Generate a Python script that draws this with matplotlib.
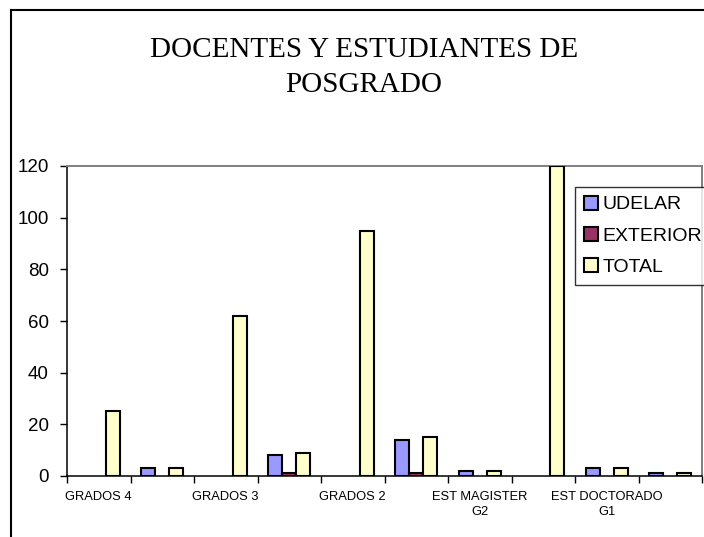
import numpy as np
import matplotlib
matplotlib.use("Agg")
import matplotlib.pyplot as plt
from matplotlib.patches import Patch
from matplotlib.lines import Line2D

plt.rcParams['font.family'] = ['Liberation Sans', 'DejaVu Sans']

# categories (Excel only shows every second label)
CATEGORIES = ["GRADOS 4", "", "GRADOS 3", "", "GRADOS 2", "",
              "EST MAGISTER\nG2", "", "EST DOCTORADO\nG1", ""]
SERIES = ["UDELAR", "EXTERIOR", "TOTAL"]
UDELAR = [0, 3, 0, 8, 0, 14, 2, 0, 3, 1]
EXTERIOR = [0, 0, 0, 1, 0, 1, 0, 0, 0, 0]
TOTAL = [25, 3, 62, 9, 95, 15, 2, 120, 3, 1]
COLORS = ["#9999FF", "#993366", "#FFFFCC"]
Y_TICKS = [0, 20, 40, 60, 80, 100, 120]

W, H = 704, 537
fig = plt.figure(figsize=(W / 100, H / 100), dpi=100)
ax = fig.add_axes([67 / W, 1 - 476 / H, 635 / W, 310 / H])

n = len(CATEGORIES)
x = np.arange(n)
bw = 1 / 4.5  # gap width 150%
for k, (vals, col) in enumerate(zip([UDELAR, EXTERIOR, TOTAL], COLORS)):
    vals = np.array(vals, dtype=float)
    keep = vals > 0
    pos = x + 0.75 * bw + bw * (k + 0.5)
    ax.bar(pos[keep], vals[keep], width=bw, color=col,
           edgecolor="black", linewidth=1.5, zorder=3)

ax.set_xlim(0, n)
ax.set_ylim(0, 120)
ax.set_yticks(Y_TICKS)
ax.tick_params(axis="y", length=5, width=1, pad=8, labelsize=13.5,
               direction="out", colors="black")

# boundaries as minor ticks, labels on the centres
ax.set_xticks(np.arange(n + 1), minor=True)
lab_idx = [i for i, c in enumerate(CATEGORIES) if c]
ax.set_xticks(x[lab_idx] + 0.5)
ax.set_xticklabels([CATEGORIES[i] for i in lab_idx], fontsize=9.3,
                   linespacing=1.35)
ax.tick_params(axis="x", which="major", length=0, pad=11)
ax.tick_params(axis="x", which="minor", length=5, width=1, direction="out")

for s in ["left", "bottom"]:
    ax.spines[s].set_color("black")
    ax.spines[s].set_linewidth(1.1)
for s in ["top", "right"]:
    ax.spines[s].set_color("#808080")
    ax.spines[s].set_linewidth(1.4)

handles = [Patch(facecolor=c, edgecolor="black", linewidth=1.5) for c in COLORS]
leg = fig.legend(handles, SERIES, loc="upper left",
                 bbox_to_anchor=(575 / W, 1 - 187 / H),
                 fontsize=14, frameon=True, fancybox=False,
                 handlelength=0.72, handleheight=0.72, handletextpad=0.25,
                 labelspacing=0.7, borderpad=0.45, borderaxespad=0)
leg.get_frame().set_edgecolor("black")
leg.get_frame().set_linewidth(1.0)

# title in Times-like serif
fig.text(364 / W, 1 - 57 / H, "DOCENTES Y ESTUDIANTES DE", ha="center",
         va="baseline", fontsize=21, family="Liberation Serif")
fig.text(364 / W, 1 - 92 / H, "POSGRADO", ha="center",
         va="baseline", fontsize=21, family="Liberation Serif")

# outer chart border (cropped on the right and bottom)
fig.add_artist(Line2D([11 / W, 11 / W], [0, 1 - 10 / H],
                      transform=fig.transFigure, color="black", lw=1.5))
fig.add_artist(Line2D([11 / W, 1], [1 - 10 / H, 1 - 10 / H],
                      transform=fig.transFigure, color="black", lw=1.5))

fig.savefig("out.png", dpi=100)
